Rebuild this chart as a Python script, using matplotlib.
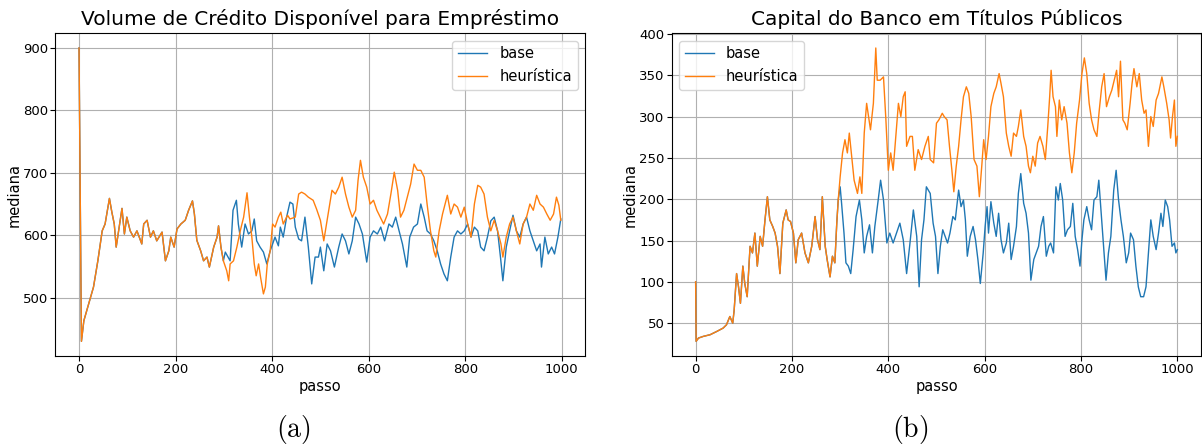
import numpy as np
import matplotlib.pyplot as plt

plt.rcParams['mathtext.fontset'] = 'cm'

# (a) Volume de crédito: trecho em que base e heurística coincidem
passo_a_comum = [0, 5, 10, 20, 30, 39, 48, 54, 63, 68,
                 73, 77, 82, 89, 94, 99, 106, 113, 120, 130,
                 134, 141, 148, 154, 161, 172, 179, 186, 190, 197,
                 203, 211, 220, 227, 235, 239, 244, 252, 258, 265,
                 270, 279, 286, 289, 294, 299]
credito_comum = [900, 430, 463, 490, 517, 559, 607, 618, 659, 637,
                 618, 581, 607, 643, 602, 629, 607, 597, 607, 586,
                 618, 624, 597, 607, 591, 605, 559, 575, 597, 581,
                 610, 618, 624, 640, 655, 634, 592, 575, 559, 565,
                 549, 581, 597, 615, 581, 559]

passo_a_base = [303, 313, 319, 326, 330, 337, 344, 351, 358, 363,
                368, 375, 382, 389, 396, 406, 413, 417, 423, 430,
                437, 443, 448, 455, 461, 468, 475, 482, 489, 496,
                500, 507, 514, 521, 529, 538, 545, 552, 559, 566,
                573, 580, 587, 596, 603, 610, 618, 625, 633, 642,
                649, 656, 663, 670, 679, 685, 693, 701, 708, 715,
                721, 728, 735, 742, 749, 756, 763, 770, 777, 784,
                791, 798, 805, 812, 819, 826, 832, 839, 846, 853,
                860, 867, 873, 878, 885, 892, 899, 906, 913, 920,
                927, 934, 941, 948, 955, 958, 965, 972, 979, 985,
                992, 998]
credito_base = [573, 559, 640, 656, 618, 581, 618, 602, 607, 626,
                591, 581, 573, 554, 575, 597, 583, 613, 597, 629,
                653, 650, 613, 594, 591, 629, 581, 522, 565, 565,
                581, 543, 586, 575, 549, 581, 602, 591, 570, 591,
                629, 618, 602, 557, 597, 607, 602, 613, 591, 618,
                613, 629, 607, 586, 549, 597, 613, 618, 650, 629,
                607, 602, 591, 575, 554, 538, 527, 565, 597, 607,
                602, 607, 618, 597, 613, 607, 581, 575, 597, 623,
                629, 607, 565, 527, 581, 607, 632, 607, 597, 618,
                629, 607, 591, 575, 586, 549, 597, 570, 581, 570,
                597, 626]

passo_a_heur = [306, 310, 313, 320, 327, 334, 341, 348, 353, 358,
                363, 367, 372, 376, 382, 386, 390, 396, 401, 406,
                413, 418, 423, 432, 437, 448, 455, 461, 468, 475,
                485, 492, 500, 507, 514, 524, 531, 538, 545, 552,
                559, 566, 573, 578, 583, 589, 596, 603, 610, 617,
                624, 631, 639, 646, 653, 660, 666, 673, 680, 687,
                694, 701, 708, 715, 721, 728, 735, 739, 746, 753,
                763, 770, 777, 784, 791, 798, 805, 812, 819, 826,
                832, 839, 846, 853, 860, 867, 874, 878, 885, 892,
                899, 906, 913, 920, 927, 934, 941, 948, 955, 962,
                969, 976, 983, 989, 994, 998]
credito_heur = [543, 527, 554, 559, 581, 607, 629, 668, 629, 597,
                554, 535, 554, 533, 506, 517, 554, 575, 618, 613,
                629, 637, 618, 632, 626, 629, 666, 669, 666, 661,
                656, 642, 624, 591, 624, 672, 666, 677, 693, 666,
                645, 629, 640, 688, 720, 693, 677, 650, 656, 640,
                629, 618, 634, 666, 701, 672, 629, 640, 661, 682,
                714, 704, 704, 693, 650, 607, 575, 565, 607, 634,
                664, 634, 650, 645, 629, 645, 618, 597, 650, 680,
                677, 666, 629, 607, 624, 607, 586, 565, 597, 618,
                629, 607, 586, 618, 629, 650, 640, 664, 650, 645,
                634, 624, 634, 661, 648, 624]

# (b) Capital em títulos públicos
passo_b_comum = [0, 1, 6, 16, 30, 44, 57, 64, 71, 77,
                 80, 85, 89, 93, 98, 102, 107, 113, 118, 123,
                 128, 134, 139, 144, 149, 154, 160, 165, 170, 175,
                 181, 188, 192, 197, 203, 208, 213, 220, 227, 234,
                 241, 248, 253, 258, 263, 269, 273, 279, 284, 289,
                 293, 296]
titulos_comum = [100, 28, 32, 34, 36, 40, 44, 48, 58, 50,
                 66, 110, 94, 74, 119, 98, 82, 143, 135, 159,
                 119, 155, 143, 175, 203, 175, 167, 159, 143, 110,
                 171, 187, 175, 173, 159, 123, 151, 159, 135, 123,
                 143, 179, 151, 139, 203, 143, 127, 106, 131, 123,
                 171, 199]

passo_b_base = [300, 303, 308, 312, 317, 322, 327, 333, 340, 345,
                350, 355, 361, 367, 372, 379, 384, 390, 397, 403,
                410, 417, 424, 431, 438, 445, 452, 459, 464, 469,
                474, 479, 487, 493, 498, 503, 508, 513, 518, 523,
                528, 534, 539, 546, 551, 556, 560, 564, 570, 576,
                581, 586, 591, 597, 601, 605, 608, 613, 619, 624,
                629, 634, 639, 645, 650, 655, 660, 666, 670, 675,
                681, 686, 691, 696, 702, 707, 712, 717, 722, 728,
                733, 737, 743, 748, 753, 757, 762, 767, 772, 778,
                783, 788, 793, 798, 802, 806, 812, 817, 822, 827,
                833, 837, 841, 847, 852, 857, 862, 868, 873, 878,
                883, 888, 894, 899, 903, 909, 914, 919, 924, 930,
                935, 940, 945, 950, 956, 961, 966, 970, 975, 980,
                984, 989, 994, 997, 1000]
titulos_base = [215, 195, 159, 123, 119, 110, 139, 179, 199, 175,
                135, 155, 169, 135, 167, 199, 223, 199, 147, 159,
                147, 159, 171, 151, 110, 147, 187, 155, 94, 151,
                175, 215, 207, 171, 155, 110, 143, 163, 155, 147,
                159, 179, 175, 211, 191, 199, 175, 131, 155, 167,
                151, 127, 98, 135, 167, 191, 159, 197, 171, 155,
                183, 151, 135, 147, 171, 127, 143, 167, 207, 231,
                195, 183, 159, 102, 127, 135, 143, 167, 179, 131,
                143, 147, 135, 215, 199, 219, 199, 155, 163, 167,
                195, 155, 139, 119, 151, 175, 191, 175, 163, 199,
                203, 223, 191, 143, 102, 135, 155, 211, 235, 199,
                175, 155, 123, 135, 159, 151, 119, 94, 82, 82,
                94, 135, 175, 155, 139, 159, 183, 167, 199, 191,
                175, 143, 147, 135, 139]

passo_b_heur = [300, 305, 310, 315, 319, 324, 329, 336, 341, 345,
                350, 355, 359, 363, 369, 374, 377, 383, 390, 395,
                400, 405, 410, 415, 421, 426, 431, 435, 438, 445,
                450, 455, 462, 469, 476, 483, 487, 494, 500, 505,
                512, 516, 522, 527, 532, 536, 541, 546, 551, 556,
                562, 567, 572, 578, 584, 589, 594, 598, 603, 608,
                613, 619, 624, 630, 634, 639, 645, 650, 655, 660,
                666, 670, 675, 681, 686, 691, 695, 700, 705, 710,
                715, 721, 726, 731, 735, 738, 742, 747, 750, 755,
                760, 765, 771, 776, 781, 786, 791, 797, 802, 807,
                812, 817, 822, 827, 833, 838, 843, 848, 853, 859,
                864, 869, 874, 878, 882, 887, 891, 896, 902, 906,
                910, 916, 921, 926, 931, 935, 940, 945, 950, 956,
                961, 968, 972, 978, 983, 986, 990, 994, 997, 1000]
titulos_heur = [227, 256, 272, 256, 280, 252, 223, 207, 227, 207,
                280, 316, 300, 284, 316, 383, 344, 344, 348, 296,
                235, 256, 235, 272, 316, 300, 324, 330, 264, 276,
                276, 235, 260, 248, 264, 276, 248, 244, 292, 296,
                304, 300, 296, 264, 235, 209, 240, 264, 296, 324,
                336, 328, 300, 248, 240, 203, 240, 272, 248, 276,
                312, 328, 336, 352, 340, 324, 280, 264, 252, 280,
                276, 288, 308, 276, 264, 240, 232, 252, 240, 268,
                276, 264, 248, 288, 324, 356, 324, 312, 276, 320,
                296, 312, 292, 256, 232, 256, 292, 320, 352, 371,
                352, 316, 296, 284, 276, 308, 336, 352, 312, 324,
                332, 344, 356, 324, 367, 296, 292, 284, 316, 340,
                358, 336, 352, 320, 304, 308, 264, 300, 288, 320,
                328, 348, 336, 316, 296, 274, 300, 320, 264, 276]

fig = plt.figure(figsize=(12.02, 4.46), dpi=100)
ax1 = fig.add_axes([0.0457, 0.2018, 0.4409, 0.7235])
ax2 = fig.add_axes([0.5587, 0.2018, 0.4408, 0.7235])

painéis = [
    (ax1, passo_a_comum, credito_comum, passo_a_base, credito_base,
     passo_a_heur, credito_heur, 'Volume de Crédito Disponível para Empréstimo', 'upper right'),
    (ax2, passo_b_comum, titulos_comum, passo_b_base, titulos_base,
     passo_b_heur, titulos_heur, 'Capital do Banco em Títulos Públicos', 'upper left'),
]

for ax, pc, vc, pb, vb, ph, vh, titulo, loc in painéis:
    ax.plot(pc + pb, vc + vb, color='tab:blue', lw=1, label='base')
    ax.plot(pc + ph, vc + vh, color='tab:orange', lw=1, label='heurística')
    ax.set_title(titulo, fontsize=14.5)
    ax.set_xlabel('passo', fontsize=10.5, labelpad=2)
    ax.set_ylabel('mediana', fontsize=10.5, labelpad=1)
    ax.tick_params(labelsize=9.5, pad=1.5)
    ax.set_xticks([0, 200, 400, 600, 800, 1000])
    ax.grid(True)
    ax.legend(loc=loc, fontsize=10.5)

ax2.set_yticks([50, 100, 150, 200, 250, 300, 350, 400])

fig.text(0.2438, 0.036, r'$\mathrm{(a)}$', fontsize=20, ha='center', va='center')
fig.text(0.757, 0.036, r'$\mathrm{(b)}$', fontsize=20, ha='center', va='center')

fig.savefig('out.png', dpi=100)
